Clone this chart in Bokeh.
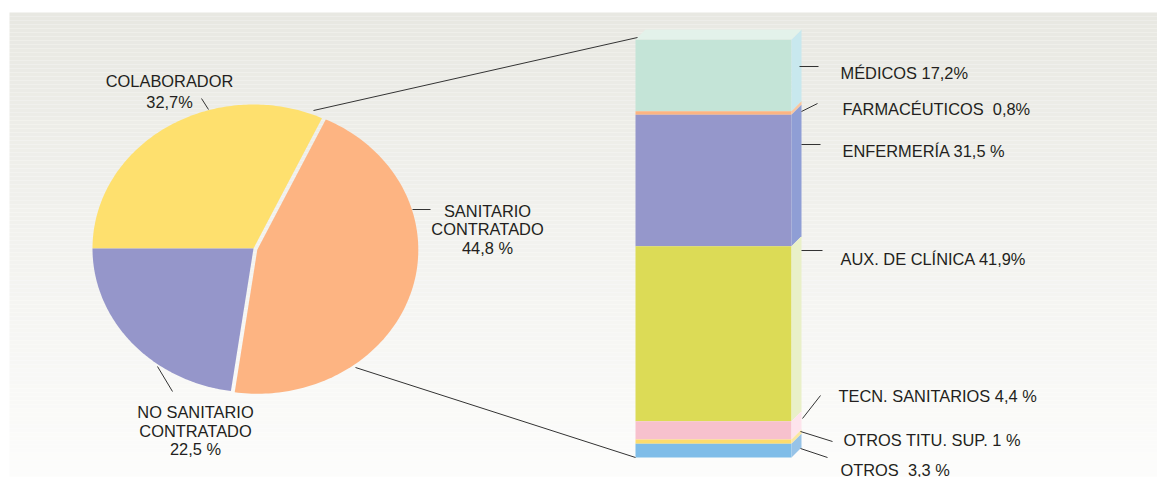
import numpy as np
from bokeh.plotting import figure
from bokeh.models import Range1d
from bokeh.embed import file_html
from bokeh.resources import INLINE
from bokeh.core.properties import value

# ---------------- data ----------------
pie_labels = ["COLABORADOR", "SANITARIO CONTRATADO", "NO SANITARIO CONTRATADO"]
pie_values = [32.7, 44.8, 22.5]
pie_colors = ["#fee06e", "#fdb482", "#9596ca"]
pie_texts = [["COLABORADOR", "32,7%"],
             ["SANITARIO", "CONTRATADO", "44,8 %"],
             ["NO SANITARIO", "CONTRATADO", "22,5 %"]]

bar_labels = ["MÉDICOS", "FARMACÉUTICOS", "ENFERMERÍA", "AUX. DE CLÍNICA",
              "TECN. SANITARIOS", "OTROS TITU. SUP.", "OTROS"]
bar_values = [17.2, 0.8, 31.5, 41.9, 4.4, 1.0, 3.3]
bar_texts = ["MÉDICOS 17,2%", "FARMACÉUTICOS\u00a0 0,8%", "ENFERMERÍA 31,5 %",
             "AUX. DE CLÍNICA 41,9%", "TECN. SANITARIOS 4,4 %",
             "OTROS TITU. SUP. 1 %", "OTROS\u00a0 3,3 %"]
bar_colors = ["#c4e4d7", "#fbb482", "#9597cb", "#dcdb56", "#f7c1cd", "#fddc6c", "#7fbde8"]
side_colors = ["#c8e8ee", "#f9c6a0", "#8f9ed5", "#e9f0c8", "#fde4ec", "#fbe7a0", "#97c3e7"]

# ---------------- figure (pixel-like coordinates) ----------------
W, H = 1157, 477
p = figure(width=W, height=H, output_backend="svg", toolbar_location=None,
           x_range=Range1d(0, W), y_range=Range1d(H, 0),
           min_border=0)
p.axis.visible = False
p.grid.visible = False
p.outline_line_color = None
p.background_fill_color = "white"
p.border_fill_color = "white"

# gradient background panel
top_c = np.array([232, 232, 226])
bot_c = np.array([253, 253, 252])
ys = np.arange(12, 486, 4)
cols = []
for yy in ys:
    t = (yy - 12) / (485 - 12)
    c = (top_c * (1 - t) + bot_c * t).round().astype(int)
    cols.append("#%02x%02x%02x" % tuple(c))
p.quad(left=9, right=1160, top=ys, bottom=ys + 4, fill_color=cols, line_color=None)

# ---------------- pie (elliptical, screen angles) ----------------
cx, cy, rx, ry = 253, 248, 161, 144
explode = [0, 4, 0]
start = 180.0
angs = []
a = start
for v in pie_values:
    a2 = a - v / sum(pie_values) * 360.0
    angs.append((a, a2))
    a = a2

xs_list, ys_list = [], []
for (a1, a2), ex in zip(angs, explode):
    th = np.radians(np.linspace(a1, a2, 120))
    r = 1.0 / np.sqrt(np.cos(th) ** 2 / rx ** 2 + np.sin(th) ** 2 / ry ** 2)
    mid = np.radians((a1 + a2) / 2)
    ox, oy = ex * np.cos(mid), -ex * np.sin(mid)
    px = np.concatenate([[cx], cx + r * np.cos(th)]) + ox
    py = np.concatenate([[cy], cy - r * np.sin(th)]) + oy
    xs_list.append(list(px))
    ys_list.append(list(py))
p.patches(xs_list, ys_list, fill_color=pie_colors, line_color=None)

# ---------------- stacked 3D bar ----------------
total = sum(bar_values)
bar_top_px, bar_bot_px = 39, 457
k = total / (bar_bot_px - bar_top_px)
p.extra_y_ranges = {"pct": Range1d(start=-(H - bar_bot_px) * k, end=bar_bot_px * k)}
tops = total - np.concatenate([[0], np.cumsum(bar_values)[:-1]])
bots = tops - np.array(bar_values)
bl, br = 635, 791
depth_x, depth_y = 10, 10 * k
p.vbar(x=(bl + br) / 2, width=br - bl, top=tops, bottom=bots,
       fill_color=bar_colors, line_color=None, y_range_name="pct")
sx = [[br, br + depth_x, br + depth_x, br] for _ in bar_values]
sy = [[b, b + depth_y, t + depth_y, t] for t, b in zip(tops, bots)]
p.patches(sx, sy, fill_color=side_colors, line_color=None, y_range_name="pct")
p.patch([bl, bl + depth_x, br + depth_x, br], [total, total + depth_y, total + depth_y, total],
        fill_color="#e3f2ea", line_color=None, y_range_name="pct")

# ---------------- connector & leader lines ----------------
lc = "#333333"
p.segment(x0=[313, 355], y0=[110, 367], x1=[637, 635], y1=[37, 457], line_color=lc, line_width=1)
p.segment(x0=[201, 412, 157], y0=[98, 209, 366], x1=[208, 430, 172], y1=[109, 209, 391],
          line_color=lc, line_width=1)
p.segment(x0=[799, 801, 801, 801, 802, 800, 800],
          y0=[66, 111, 144, 250, 418, 431, 448],
          x1=[818, 817, 820, 822, 820, 832, 827],
          y1=[66, 103, 144, 250, 395, 441, 457], line_color=lc, line_width=1)

# ---------------- texts ----------------
font = value("Liberation Sans")
tc = "#231f20"
fs = "16.4px"
pie_tx = [169, 487, 195]
pie_ty = [[80, 101], [210, 228, 247], [411, 430, 448]]
tx, ty, tt = [], [], []
for lines, x0, yl in zip(pie_texts, pie_tx, pie_ty):
    for line, y0 in zip(lines, yl):
        tx.append(x0); ty.append(y0); tt.append(line)
p.text(x=tx, y=ty, text=tt, text_font=font, text_font_size=fs, text_color=tc,
       text_align="center", text_baseline="middle")

bar_tx = [840, 842, 842, 840, 838, 843, 840]
bar_ty = [72, 108, 150, 258, 395, 439, 469]
p.text(x=bar_tx, y=bar_ty, text=bar_texts, text_font=font, text_font_size=fs,
       text_color=tc, text_align="left", text_baseline="middle")

open("out.html", "w").write(file_html(p, INLINE))
